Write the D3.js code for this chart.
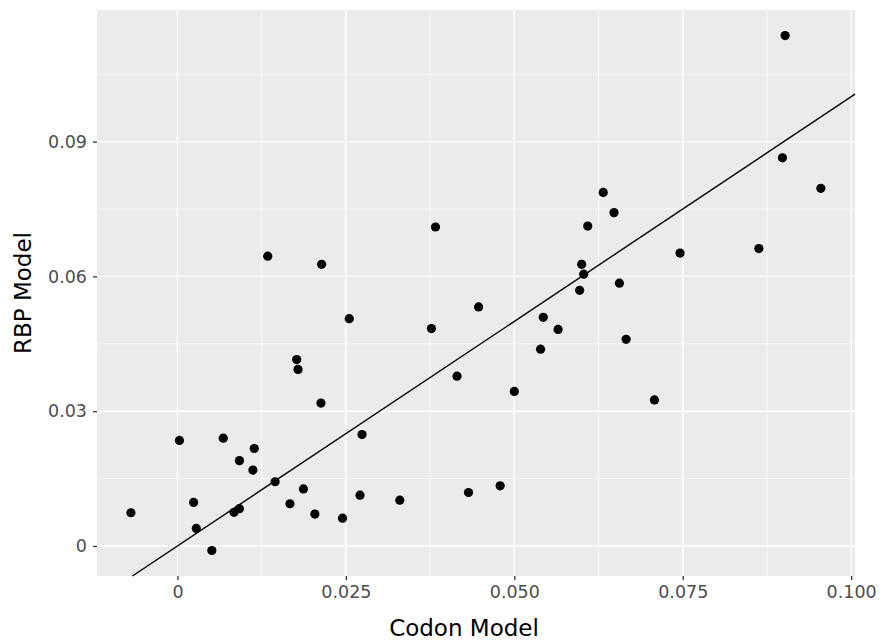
<!DOCTYPE html>
<html>
<head>
<meta charset="utf-8">
<script src="https://cdn.jsdelivr.net/npm/d3@7"></script>
<style>
  body { margin: 0; background: #fff; }
  text { font-family: "DejaVu Sans", sans-serif; }
</style>
</head>
<body>
<script>
// codon model (x) vs RBP model (y)
var codon = [-0.0069, 0.0003, 0.0024, 0.0028, 0.0051, 0.0068, 0.0084, 0.0092, 0.0092, 0.0114,
  0.0112, 0.0145, 0.0134, 0.0167, 0.0177, 0.0179, 0.0187, 0.0204, 0.0214, 0.0213,
  0.0245, 0.0255, 0.0274, 0.0271, 0.0330, 0.0377, 0.0383, 0.0415, 0.0432, 0.0447,
  0.0479, 0.0500, 0.0539, 0.0543, 0.0565, 0.0597, 0.0600, 0.0603, 0.0609, 0.0632,
  0.0648, 0.0656, 0.0666, 0.0708, 0.0746, 0.0863, 0.0898, 0.0902, 0.0955];
var rbp = [0.0074, 0.0235, 0.0097, 0.0039, -0.0010, 0.0240, 0.0075, 0.0083, 0.0190, 0.0217,
  0.0169, 0.0143, 0.0645, 0.0094, 0.0415, 0.0393, 0.0127, 0.0071, 0.0627, 0.0318,
  0.0062, 0.0506, 0.0248, 0.0113, 0.0102, 0.0484, 0.0710, 0.0378, 0.0119, 0.0532,
  0.0134, 0.0344, 0.0438, 0.0509, 0.0482, 0.0569, 0.0627, 0.0605, 0.0712, 0.0787,
  0.0742, 0.0585, 0.0460, 0.0325, 0.0652, 0.0662, 0.0864, 0.1136, 0.0796];

var xTicks = [0, 0.025, 0.05, 0.075, 0.1];
var xTickLabels = ["0", "0.025", "0.050", "0.075", "0.100"];
var xMinor = [0.0125, 0.0375, 0.0625, 0.0875];
var yTicks = [0, 0.03, 0.06, 0.09];
var yTickLabels = ["0", "0.03", "0.06", "0.09"];
var yMinor = [0.015, 0.045, 0.075, 0.105];

var width = 880, height = 643;
var margin = { top: 10, right: 25, bottom: 67, left: 97 };

var svg = d3.select("body").append("svg")
  .attr("width", width)
  .attr("height", height);

var x = d3.scaleLinear()
  .domain([-0.01194, 0.10057])
  .range([margin.left, width - margin.right]);
var y = d3.scaleLinear()
  .domain([-0.00668, 0.1193])
  .range([height - margin.bottom, margin.top]);

// panel
svg.append("rect")
  .attr("x", margin.left)
  .attr("y", margin.top)
  .attr("width", width - margin.left - margin.right)
  .attr("height", height - margin.top - margin.bottom)
  .attr("fill", "#ebebeb");

// minor grid
svg.selectAll(".xminor").data(xMinor).enter().append("line")
  .attr("x1", d => x(d)).attr("x2", d => x(d))
  .attr("y1", margin.top).attr("y2", height - margin.bottom)
  .attr("stroke", "#fff").attr("stroke-width", 0.7);
svg.selectAll(".yminor").data(yMinor).enter().append("line")
  .attr("y1", d => y(d)).attr("y2", d => y(d))
  .attr("x1", margin.left).attr("x2", width - margin.right)
  .attr("stroke", "#fff").attr("stroke-width", 0.7);

// major grid
svg.selectAll(".xmajor").data(xTicks).enter().append("line")
  .attr("x1", d => x(d)).attr("x2", d => x(d))
  .attr("y1", margin.top).attr("y2", height - margin.bottom)
  .attr("stroke", "#fff").attr("stroke-width", 1.4);
svg.selectAll(".ymajor").data(yTicks).enter().append("line")
  .attr("y1", d => y(d)).attr("y2", d => y(d))
  .attr("x1", margin.left).attr("x2", width - margin.right)
  .attr("stroke", "#fff").attr("stroke-width", 1.4);

// axes
var xAxis = d3.axisBottom(x)
  .tickValues(xTicks)
  .tickFormat((d, i) => xTickLabels[i])
  .tickSize(4).tickPadding(6);
var gx = svg.append("g")
  .attr("transform", "translate(0," + (height - margin.bottom) + ")")
  .call(xAxis);

var yAxis = d3.axisLeft(y)
  .tickValues(yTicks)
  .tickFormat((d, i) => yTickLabels[i])
  .tickSize(4).tickPadding(6);
var gy = svg.append("g")
  .attr("transform", "translate(" + margin.left + ",0)")
  .call(yAxis);

[gx, gy].forEach(function(g) {
  g.select(".domain").remove();
  g.selectAll(".tick line").attr("stroke", "#333").attr("stroke-width", 1.3);
  g.selectAll(".tick text")
    .attr("fill", "#4d4d4d")
    .style("font-size", "17.5px")
    .style("font-family", "DejaVu Sans");
});

// y = x reference line, clipped to the panel
var lo = Math.max(x.domain()[0], y.domain()[0]);
var hi = Math.min(x.domain()[1], y.domain()[1]);
svg.append("line")
  .attr("x1", x(lo)).attr("y1", y(lo))
  .attr("x2", x(hi)).attr("y2", y(hi))
  .attr("stroke", "#000").attr("stroke-width", 1.4);

// points
svg.selectAll(".pt").data(codon).enter().append("circle")
  .attr("class", "pt")
  .attr("cx", d => x(d))
  .attr("cy", (d, i) => y(rbp[i]))
  .attr("r", 4.6)
  .attr("fill", "#000");

// axis titles
svg.append("text")
  .attr("x", 464)
  .attr("y", 635.5)
  .attr("text-anchor", "middle")
  .style("font-size", "23px")
  .attr("fill", "#000")
  .text("Codon Model");

svg.append("text")
  .attr("transform", "translate(31," + ((margin.top + height - margin.bottom) / 2) + ") rotate(-90)")
  .attr("text-anchor", "middle")
  .style("font-size", "23px")
  .attr("fill", "#000")
  .text("RBP Model");
</script>
</body>
</html>
